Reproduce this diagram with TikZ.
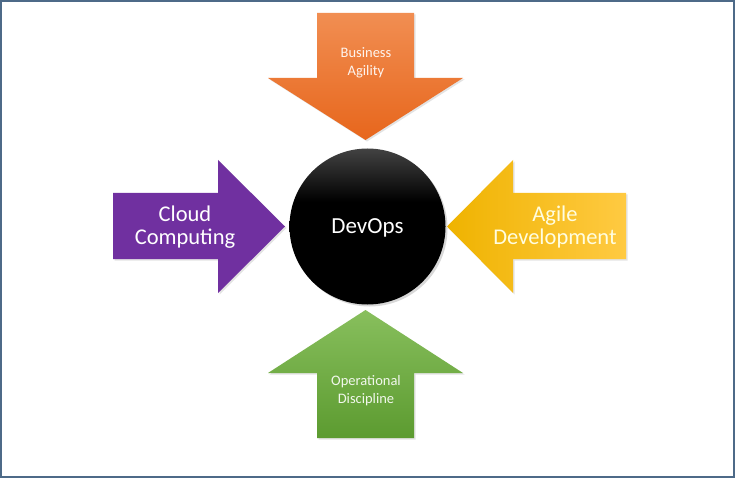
\documentclass[tikz,border=0pt]{standalone}
\usepackage{fontspec}
\setmainfont{Carlito}
\usepackage{xcolor}
\usetikzlibrary{positioning,shadows}
\definecolor{frame}{HTML}{4D6A88}
\definecolor{bizA}{HTML}{F18E52}
\definecolor{bizB}{HTML}{E7661C}
\definecolor{cloud}{HTML}{7030A0}
\definecolor{agileA}{HTML}{EFB300}
\definecolor{agileB}{HTML}{FFCA42}
\definecolor{opsA}{HTML}{88BF5D}
\definecolor{opsB}{HTML}{5C9B30}
% dark only at the very top of the disc, black below
\pgfdeclareverticalshading{hubshade}{100bp}{color(0bp)=(black); color(25bp)=(black);
  color(58bp)=(black); color(75bp)=(black!74); color(100bp)=(black!74)}
\tikzset{
  petal/.style ={drop shadow={opacity=0.22, shadow xshift=1.5pt, shadow yshift=-1.5pt}},
  hub/.style   ={circle, minimum size=156pt, inner sep=0pt, text=white,
                 shading=hubshade, text height=14.7pt, text depth=0pt,
                 drop shadow={opacity=0.3, shadow xshift=2pt, shadow yshift=-2pt},
                 font=\fontsize{23}{24}\selectfont},
  biglbl/.style={align=center, inner sep=0pt, font=\fontsize{22.5}{22.7}\selectfont},
  smalllbl/.style={align=center, inner sep=0pt, font=\fontsize{14.5}{18}\selectfont},
}
\begin{document}
\begin{tikzpicture}[x=1pt,y=-1pt]
\useasboundingbox (0,0) rectangle (735,478);
\fill[white] (0,0) rectangle (735,478);
\draw[frame, line width=2pt] (1,1) rectangle (734,477);
% the four arrows pointing at the hub
\shade[petal, top color=bizA, bottom color=bizB]
  (317,13) -- (414,13) -- (414,78) -- (463,78) -- (365.5,140)
  -- (268,78) -- (317,78) -- cycle;
\shade[petal, top color=opsA, bottom color=opsB]
  (317,438) -- (414,438) -- (414,373) -- (463,373) -- (365.5,310)
  -- (268,373) -- (317,373) -- cycle;
\fill[petal, cloud]
  (113,193) -- (218,193) -- (218,160) -- (285,226.5) -- (218,293)
  -- (218,259) -- (113,259) -- cycle;
\shade[petal, left color=agileA, right color=agileB]
  (626,193) -- (513,193) -- (513,160) -- (447,226.5) -- (513,293)
  -- (513,259) -- (626,259) -- cycle;
\node[hub] (devops) at (367.5,226.5) {DevOps};
\node[biglbl, text=white] (cloudtxt) at (185,227) {Cloud\\Computing};
\node[biglbl, text=white!88!yellow] (agiletxt) at (555,227) {Agile\\Development};
\node[smalllbl, text=white!90!bizA] (biztxt) at (366,63) {Business\\Agility};
\node[smalllbl, text=white!88!opsA] (opstxt) at (366,391) {Operational\\Discipline};
\end{tikzpicture}
\end{document}
